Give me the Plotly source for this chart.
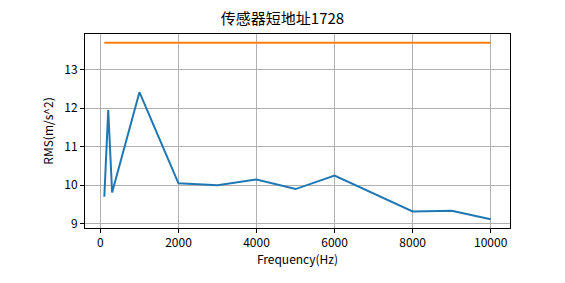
import plotly.graph_objects as go

freq = [100, 200, 300, 1000, 2000, 3000, 4000, 5000, 6000, 8000, 9000, 10000]
rms = [9.70, 11.95, 9.81, 12.41, 10.05, 10.00, 10.15, 9.90, 10.25, 9.32, 9.34, 9.12]
limit_x = [100, 10000]
limit_y = [13.69, 13.69]
title = "传感器短地址1728"
xlabel = "Frequency(Hz)"
ylabel = "RMS(m/s^2)"
xticks = [0, 2000, 4000, 6000, 8000, 10000]
yticks = [9, 10, 11, 12, 13]

xmin, xmax = min(freq), max(freq)
ymin, ymax = min(rms + limit_y), max(rms + limit_y)
xm = (xmax - xmin) * 0.05
ym = (ymax - ymin) * 0.05

fig = go.Figure()
fig.add_trace(go.Scatter(x=freq, y=rms, mode="lines", line=dict(color="#1f77b4", width=2)))
fig.add_trace(go.Scatter(x=limit_x, y=limit_y, mode="lines", line=dict(color="#ff7f0e", width=2)))

font_family = "Noto Sans CJK SC, DejaVu Sans, sans-serif"
fig.update_layout(
    width=565, height=283,
    margin=dict(l=85, r=55, t=34, b=55),
    plot_bgcolor="white", paper_bgcolor="white",
    showlegend=False,
    font=dict(family=font_family, size=12, color="black"),
    title=dict(text=title, x=0.5, xanchor="center", y=1 - 19 / 283, yanchor="middle",
               font=dict(size=15, color="black")),
)
axis_common = dict(
    showline=True, linecolor="black", linewidth=1, mirror=True,
    showgrid=True, gridcolor="#b0b0b0", gridwidth=1,
    ticks="outside", ticklen=4, tickcolor="black", zeroline=False,
    tickfont=dict(size=12, color="black"),
)
fig.update_xaxes(range=[xmin - xm, xmax + xm], tickvals=xticks, ticktext=[str(v) for v in xticks],
                 title=dict(text=xlabel, font=dict(size=12), standoff=6), **axis_common)
fig.update_yaxes(range=[ymin - ym, ymax + ym], tickvals=yticks, ticktext=[str(v) for v in yticks],
                 title=dict(text=ylabel, font=dict(size=12), standoff=8), **axis_common)

fig.write_html("out.html")
